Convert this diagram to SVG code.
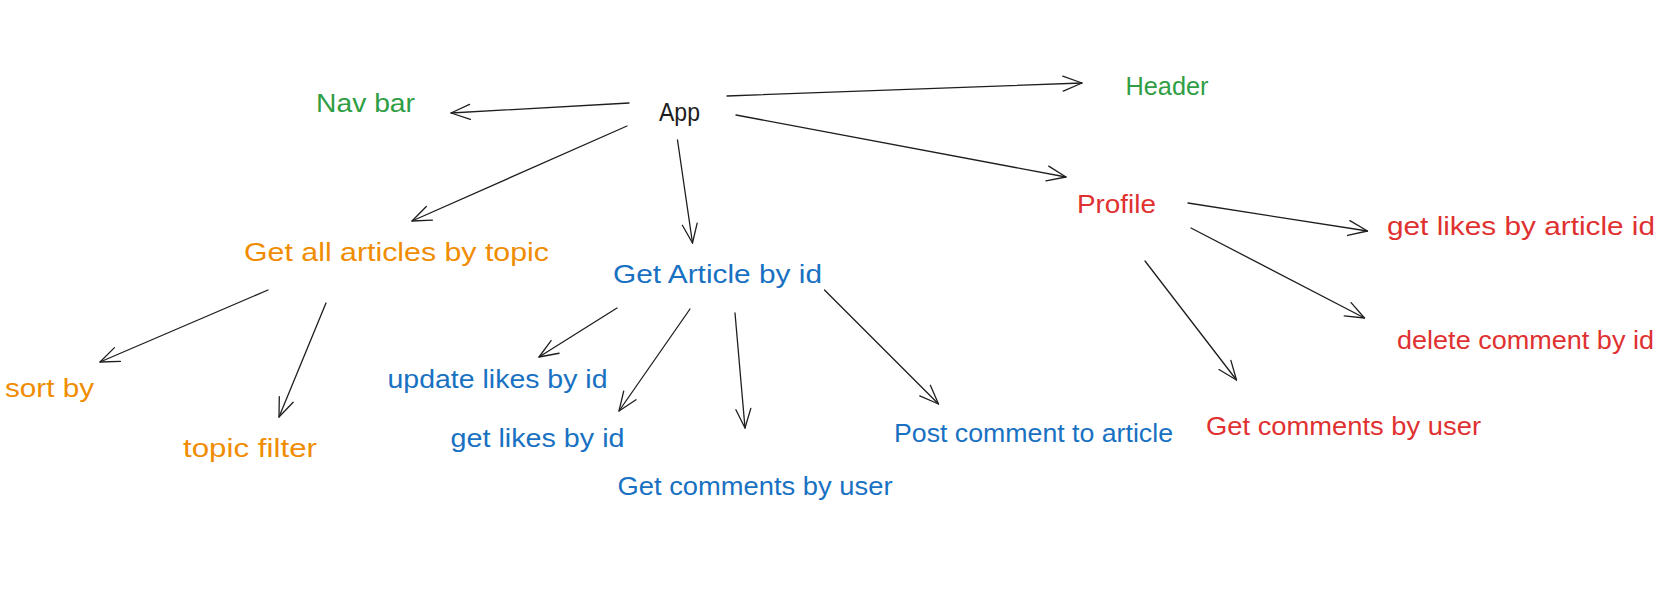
<svg xmlns="http://www.w3.org/2000/svg" width="1680" height="592" viewBox="0 0 1680 592">
<style>
  .t { font-family: "Liberation Sans", Arial, sans-serif; font-size: 26px; }
  .k { fill: #1e1e1e; }
  .g { fill: #2f9e44; }
  .o { fill: #f08c00; }
  .b { fill: #1971c2; }
  .r { fill: #e03131; }
  .c line { stroke: #1e1e1e; stroke-width: 1.3; fill: none; stroke-linecap: round; marker-end: url(#ah); }
</style>
<defs>
  <marker id="ah" markerWidth="24" markerHeight="20" refX="20" refY="10" orient="auto" markerUnits="userSpaceOnUse">
    <path d="M1,2.5 L20,10 L1,17.5" fill="none" stroke="#1e1e1e" stroke-width="1.3" stroke-linecap="round" stroke-linejoin="round"/>
  </marker>
</defs>
<rect width="1680" height="592" fill="#ffffff"/>
<g id="connectors" class="c">
  <line x1="629" y1="103" x2="451" y2="113"/>
  <line x1="727" y1="96" x2="1082" y2="83"/>
  <line x1="736" y1="115" x2="1066" y2="177"/>
  <line x1="627" y1="126" x2="412" y2="221"/>
  <line x1="677.5" y1="140" x2="692.5" y2="243"/>
  <line x1="268" y1="290" x2="100" y2="362"/>
  <line x1="326" y1="303" x2="279" y2="417"/>
  <line x1="617" y1="308" x2="539" y2="357"/>
  <line x1="690" y1="309" x2="619" y2="411"/>
  <line x1="735" y1="313" x2="745" y2="428"/>
  <line x1="824.5" y1="290" x2="938.5" y2="404"/>
  <line x1="1188" y1="203" x2="1367.5" y2="231"/>
  <line x1="1191" y1="228" x2="1364.5" y2="318"/>
  <line x1="1145" y1="261" x2="1236.5" y2="380"/>
</g>
<g id="app"><text class="t k" x="659" y="121" textLength="41" lengthAdjust="spacingAndGlyphs">App</text></g>
<g id="navbar"><text class="t g" x="316" y="112" textLength="99" lengthAdjust="spacingAndGlyphs">Nav bar</text></g>
<g id="header"><text class="t g" x="1125.5" y="94.5" textLength="83" lengthAdjust="spacingAndGlyphs">Header</text></g>
<g id="profile"><text class="t r" x="1077" y="213" textLength="79" lengthAdjust="spacingAndGlyphs">Profile</text></g>
<g id="get-all-articles"><text class="t o" x="244" y="261" textLength="305" lengthAdjust="spacingAndGlyphs">Get all articles by topic</text></g>
<g id="get-article"><text class="t b" x="613" y="283" textLength="209" lengthAdjust="spacingAndGlyphs">Get Article by id</text></g>
<g id="get-likes-article"><text class="t r" x="1387" y="234.5" textLength="268" lengthAdjust="spacingAndGlyphs">get likes by article id</text></g>
<g id="delete-comment"><text class="t r" x="1397" y="348.5" textLength="257" lengthAdjust="spacingAndGlyphs">delete comment by id</text></g>
<g id="profile-comments"><text class="t r" x="1206" y="434.5" textLength="275" lengthAdjust="spacingAndGlyphs">Get comments by user</text></g>
<g id="post-comment"><text class="t b" x="894" y="441.5" textLength="279" lengthAdjust="spacingAndGlyphs">Post comment to article</text></g>
<g id="article-comments"><text class="t b" x="617.5" y="494.5" textLength="275" lengthAdjust="spacingAndGlyphs">Get comments by user</text></g>
<g id="get-likes"><text class="t b" x="450.5" y="446.5" textLength="174" lengthAdjust="spacingAndGlyphs">get likes by id</text></g>
<g id="update-likes"><text class="t b" x="387.5" y="388" textLength="220" lengthAdjust="spacingAndGlyphs">update likes by id</text></g>
<g id="sort-by"><text class="t o" x="5" y="396.5" textLength="89" lengthAdjust="spacingAndGlyphs">sort by</text></g>
<g id="topic-filter"><text class="t o" x="183" y="456.5" textLength="134" lengthAdjust="spacingAndGlyphs">topic filter</text></g>
</svg>
